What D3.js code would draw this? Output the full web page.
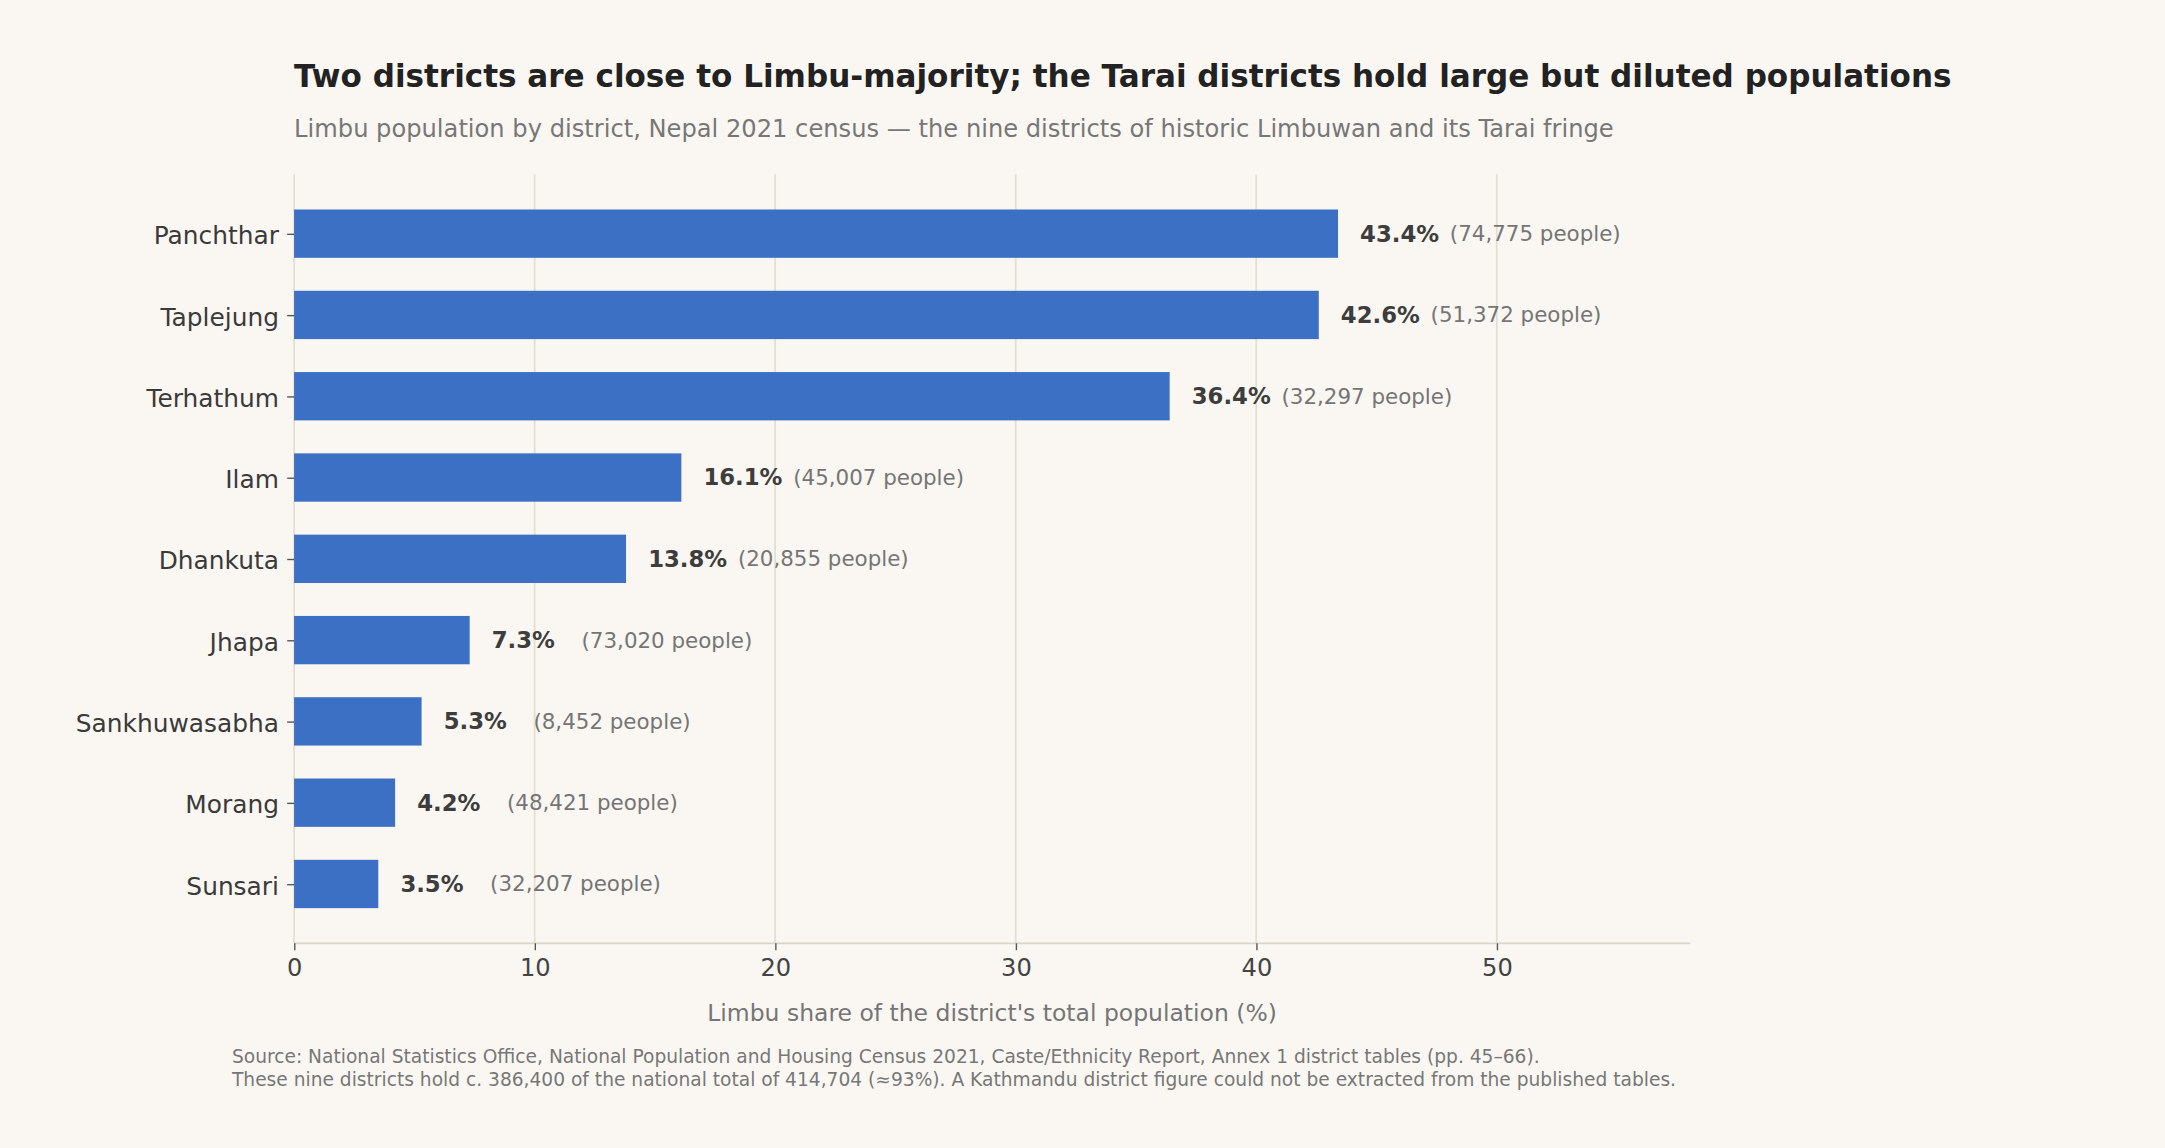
<!DOCTYPE html>
<html><head><meta charset="utf-8">
<script src="https://cdn.jsdelivr.net/npm/d3@7"></script>
<style>body{margin:0;background:#faf7f2}svg{display:block}text{font-family:"DejaVu Sans",sans-serif}</style>
</head><body>
<script>
const districts=["Panchthar","Taplejung","Terhathum","Ilam","Dhankuta","Jhapa","Sankhuwasabha","Morang","Sunsari"];
const shares=[43.4,42.6,36.4,16.1,13.8,7.3,5.3,4.2,3.5];
const people=[74775,51372,32297,45007,20855,73020,8452,48421,32207];
const xTicks=[0,10,20,30,40,50];

const svg=d3.select("body").append("svg").attr("width",2165).attr("height",1148).attr("viewBox","0 0 1568 831");
svg.append("rect").attr("width",1568).attr("height",831).attr("fill","#faf7f2");
const x=d3.scaleLinear().domain([0,58]).range([213,1223.4]);
const y=d3.scalePoint().domain(districts).range([169,640]);
const bh=35;
// grid
svg.append("g").selectAll("line").data(xTicks).join("line")
 .attr("x1",d=>x(d)).attr("x2",d=>x(d)).attr("y1",126).attr("y2",683)
 .attr("stroke","#e3dfd3").attr("stroke-width",1.3);
// bars
svg.append("g").selectAll("rect").data(districts).join("rect")
 .attr("x",x(0)).attr("y",d=>y(d)-bh/2).attr("width",(d,i)=>x(shares[i])-x(0)).attr("height",bh).attr("fill","#3b70c4");
// x axis
const xa=svg.append("g").attr("transform","translate(0,683)").call(d3.axisBottom(x).tickValues(xTicks).tickSize(5).tickPadding(6));
xa.select(".domain").attr("stroke","#d9d5ca").attr("stroke-width",1.3).attr("d","M213,0H1224");
xa.selectAll(".tick line").attr("stroke","#555");
xa.selectAll(".tick text").attr("fill","#444").attr("font-size",17.5);
// y axis
const ya=svg.append("g").attr("transform","translate(213,0)").call(d3.axisLeft(y).tickSize(5).tickPadding(6));
ya.select(".domain").remove();
ya.selectAll(".tick line").attr("stroke","#555");
ya.selectAll(".tick text").attr("fill","#3a3a3a").attr("font-size",18).attr("dy","0.4em");
// labels
const lab=svg.append("g");
districts.forEach((d,i)=>{
 const bx=x(shares[i]);
 lab.append("text").attr("x",bx+16).attr("y",y(d)).attr("dy","0.35em").attr("font-size",16.5).attr("font-weight","bold").attr("fill","#3d3d3d").text(shares[i].toFixed(1)+"%");
 lab.append("text").attr("x",bx+81).attr("y",y(d)).attr("dy","0.35em").attr("font-size",15.5).attr("fill","#757575").text("("+d3.format(",")(people[i])+" people)");
});
svg.append("text").attr("x",213).attr("y",63).attr("font-size",22.5).attr("font-weight","bold").attr("fill","#222").text("Two districts are close to Limbu-majority; the Tarai districts hold large but diluted populations");
svg.append("text").attr("x",213).attr("y",99).attr("font-size",17.5).attr("fill","#777").text("Limbu population by district, Nepal 2021 census — the nine districts of historic Limbuwan and its Tarai fringe");
svg.append("text").attr("x",718.5).attr("y",739).attr("text-anchor","middle").attr("font-size",17).attr("fill","#757575").text("Limbu share of the district's total population (%)");
svg.append("text").attr("x",168).attr("y",770).attr("font-size",13.5).attr("fill","#777").text("Source: National Statistics Office, National Population and Housing Census 2021, Caste/Ethnicity Report, Annex 1 district tables (pp. 45–66).");
svg.append("text").attr("x",168).attr("y",786).attr("font-size",13.5).attr("fill","#777").text("These nine districts hold c. 386,400 of the national total of 414,704 (≈93%). A Kathmandu district figure could not be extracted from the published tables.");
</script>
</body></html>
